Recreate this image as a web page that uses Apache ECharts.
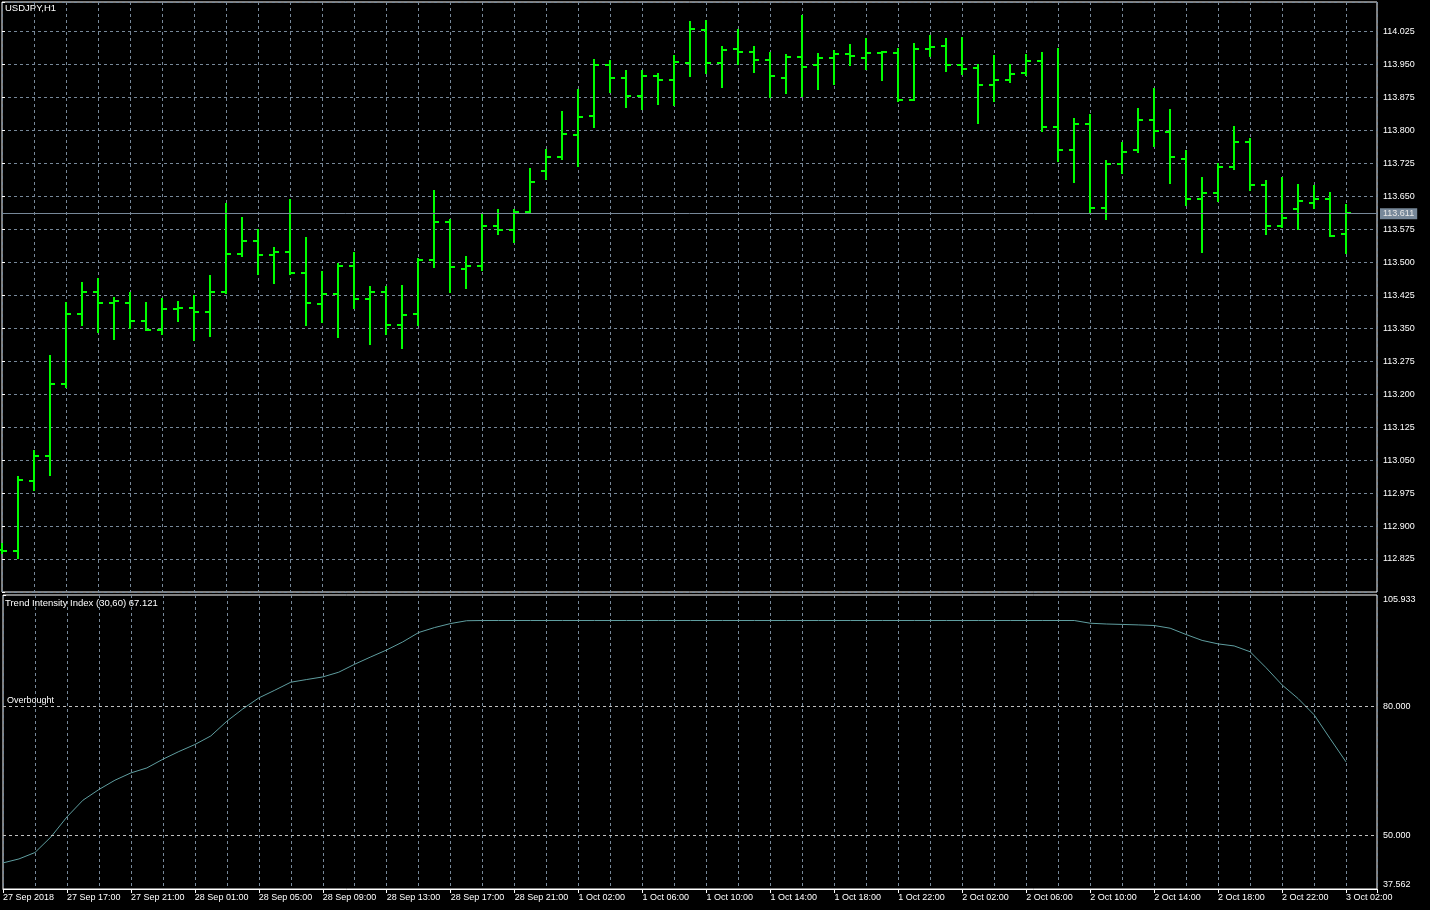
<!DOCTYPE html>
<html>
<head>
<meta charset="utf-8">
<script src="https://cdn.jsdelivr.net/npm/echarts@6/dist/echarts.min.js"></script>
<style>
html,body{margin:0;padding:0;background:#000;}
#c{width:1430px;height:910px;}
</style>
</head>
<body>
<div id="c"></div>
<script>
// ---- data ----
const symbolTitle = 'USDJPY,H1';
const indicatorName = 'Trend Intensity Index (30,60)';

// time labels shown on the axis, one every 4 hourly bars
const tickLabels = ['27 Sep 2018','27 Sep 17:00','27 Sep 21:00','28 Sep 01:00','28 Sep 05:00','28 Sep 09:00',
  '28 Sep 13:00','28 Sep 17:00','28 Sep 21:00','1 Oct 02:00','1 Oct 06:00','1 Oct 10:00','1 Oct 14:00',
  '1 Oct 18:00','1 Oct 22:00','2 Oct 02:00','2 Oct 06:00','2 Oct 10:00','2 Oct 14:00','2 Oct 18:00',
  '2 Oct 22:00','3 Oct 02:00'];

const open = [112.845,112.843,113.002,113.060,113.222,113.381,113.433,113.406,113.408,113.365,
  113.346,113.394,113.396,113.386,113.431,113.519,113.547,113.517,113.522,113.475,
  113.404,113.427,113.490,113.417,113.431,113.358,113.381,113.504,113.592,113.485,
  113.490,113.581,113.572,113.614,113.707,113.739,113.790,113.833,113.949,113.919,
  113.878,113.924,113.913,113.953,114.028,113.953,113.985,113.978,113.960,113.919,
  113.967,113.947,113.963,113.973,113.963,113.976,113.976,113.869,113.985,113.992,
  113.949,113.942,113.903,113.915,113.931,113.958,113.808,113.754,113.815,113.624,
  113.722,113.754,113.824,113.795,113.735,113.643,113.656,113.717,113.772,113.676,
  113.581,113.620,113.635,113.643,113.563];
const high = [112.858,113.012,113.071,113.287,113.408,113.453,113.462,113.418,113.430,113.407,
  113.416,113.409,113.423,113.469,113.632,113.601,113.573,113.532,113.642,113.555,
  113.477,113.495,113.521,113.444,113.444,113.446,113.507,113.662,113.596,113.511,
  113.610,113.619,113.619,113.712,113.755,113.841,113.891,113.960,113.957,113.935,
  113.935,113.928,113.969,114.046,114.049,113.989,114.028,113.989,113.975,113.971,
  114.060,113.973,113.980,113.994,114.007,113.978,113.984,113.995,114.014,114.007,
  114.009,113.949,113.968,113.949,113.970,113.975,113.984,113.825,113.834,113.729,
  113.770,113.848,113.894,113.846,113.753,113.692,113.723,113.807,113.779,113.685,
  113.692,113.676,113.673,113.657,113.630];
const low = [112.838,112.827,112.983,113.017,113.217,113.358,113.342,113.326,113.351,113.346,
  113.336,113.367,113.324,113.333,113.430,113.513,113.473,113.452,113.473,113.358,
  113.363,113.329,113.395,113.313,113.336,113.304,113.358,113.488,113.433,113.442,
  113.483,113.563,113.545,113.613,113.690,113.735,113.719,113.807,113.887,113.853,
  113.848,113.860,113.857,113.923,113.930,113.898,113.950,113.932,113.876,113.885,
  113.878,113.894,113.906,113.949,113.940,113.913,113.866,113.869,113.969,113.935,
  113.928,113.817,113.867,113.910,113.926,113.797,113.729,113.681,113.615,113.597,
  113.703,113.751,113.763,113.679,113.629,113.522,113.640,113.711,113.663,113.563,
  113.580,113.575,113.622,113.560,113.520];
const close = [112.843,113.004,113.060,113.222,113.381,113.433,113.406,113.411,113.365,113.346,
  113.394,113.396,113.386,113.431,113.519,113.547,113.517,113.522,113.475,113.406,
  113.427,113.491,113.417,113.431,113.356,113.379,113.505,113.592,113.488,113.492,
  113.581,113.572,113.614,113.681,113.739,113.792,113.829,113.949,113.919,113.878,
  113.924,113.913,113.956,114.031,113.953,113.983,113.978,113.960,113.922,113.967,
  113.944,113.963,113.973,113.969,113.976,113.978,113.869,113.985,113.990,113.949,
  113.940,113.903,113.915,113.928,113.958,113.808,113.754,113.815,113.624,113.722,
  113.751,113.824,113.797,113.738,113.643,113.656,113.717,113.772,113.676,113.583,
  113.600,113.638,113.644,113.560,113.611];

// Trend Intensity Index values, one per bar
const tii = [43.63,44.56,46.05,49.67,54.33,58.21,60.70,62.86,64.56,65.72,
  67.74,69.53,71.16,73.16,76.58,79.44,82.00,83.79,85.65,86.28,
  86.88,87.98,89.84,91.53,93.16,95.02,97.21,98.37,99.30,99.95,
  100,100,100,100,100,100,100,100,100,100,
  100,100,100,100,100,100,100,100,100,100,
  100,100,100,100,100,100,100,100,100,100,
  100,100,100,100,100,100,100,100,99.37,99.19,
  99.09,98.98,98.84,98.21,96.74,95.37,94.56,94.09,92.74,89.02,
  85.02,81.86,78.09,72.56,67.121];

const levels = [{value: 80, label: 'Overbought'}, {value: 50, label: ''}];
const indicatorAxisLabels = [37.562, 50, 80, 105.933];
const priceRange = [112.75, 114.0913];
const priceStep = 0.075;

// ---- chart ----
const FONT = 'Liberation Sans';
const GRID_COLOR = '#778899';
const DASH = [3, 3];
const X_MAX = 1375 / 16;
const ohlc = open.map((o, i) => [i, o, high[i], low[i], close[i]]);
const tiiData = tii.map((v, i) => [i, v]);
const lastClose = close[close.length - 1];
const lastTii = tii[tii.length - 1];

function gridXAxis(gi) {
  return {
    gridIndex: gi, type: 'value', min: 0, max: X_MAX, interval: 2,
    axisLine: {show: false}, axisTick: {show: false}, axisLabel: {show: false},
    splitLine: {show: true, lineStyle: {color: GRID_COLOR, type: DASH, width: 1}}
  };
}

function renderOHLC(params, api) {
  const x = api.value(0);
  const o = api.coord([x, api.value(1)]);
  const h = api.coord([x, api.value(2)]);
  const l = api.coord([x, api.value(3)]);
  const c = api.coord([x, api.value(4)]);
  const cx = Math.round(o[0]);
  const st = {stroke: '#00ff00', lineWidth: 2};
  return {
    type: 'group',
    children: [
      {type: 'line', shape: {x1: cx, y1: Math.round(h[1]) - 1, x2: cx, y2: Math.round(l[1]) + 1}, style: st},
      {type: 'line', shape: {x1: cx - 5, y1: Math.round(o[1]), x2: cx, y2: Math.round(o[1])}, style: st},
      {type: 'line', shape: {x1: cx, y1: Math.round(c[1]), x2: cx + 5, y2: Math.round(c[1])}, style: st}
    ]
  };
}

const chart = echarts.init(document.getElementById('c'), null, {renderer: 'canvas'});
const txt = {color: '#ffffff', fontFamily: FONT, fontSize: 9};

chart.setOption({
  backgroundColor: '#000000',
  animation: false,
  title: [
    {text: symbolTitle, left: 5, top: 3, padding: 0,
     textStyle: {color: '#fff', fontFamily: FONT, fontSize: 9.5, fontWeight: 'normal'}},
    {text: indicatorName + ' ' + lastTii.toFixed(3), left: 5, top: 598, padding: 0,
     textStyle: {color: '#fff', fontFamily: FONT, fontSize: 9.5, fontWeight: 'normal'}}
  ],
  grid: [
    {left: 2, top: 2, width: 1375, height: 590, show: true, borderColor: '#ffffff', borderWidth: 1, containLabel: false},
    {left: 2, top: 595, width: 1375, height: 294, show: true, borderColor: '#ffffff', borderWidth: 1, containLabel: false}
  ],
  xAxis: [
    gridXAxis(0),
    gridXAxis(1),
    {
      gridIndex: 1, type: 'value', min: 0, max: X_MAX, interval: 4, position: 'bottom',
      axisLine: {show: true, lineStyle: {color: '#ffffff'}},
      axisTick: {show: true, length: 4, lineStyle: {color: '#ffffff'}},
      splitLine: {show: false},
      axisLabel: Object.assign({}, txt, {
        align: 'left', margin: 4,
        formatter: v => (Number.isInteger(v) && v % 4 === 0 && tickLabels[v / 4]) ? tickLabels[v / 4] : ''
      })
    }
  ],
  yAxis: [
    {
      gridIndex: 0, type: 'value', position: 'right', min: priceRange[0], max: priceRange[1], interval: priceStep,
      axisLine: {show: false},
      axisTick: {show: true, length: 3, lineStyle: {color: '#ffffff'}},
      axisLabel: Object.assign({}, txt, {
        margin: 6,
        formatter: v => (v < priceRange[0] + 0.05 || v > priceRange[1] - 0.05) ? '' : v.toFixed(3)
      }),
      splitLine: {show: true, lineStyle: {color: GRID_COLOR, type: DASH, width: 1}}
    },
    {
      gridIndex: 1, type: 'value', position: 'right',
      min: indicatorAxisLabels[0], max: indicatorAxisLabels[indicatorAxisLabels.length - 1],
      axisLine: {show: false},
      splitLine: {show: false},
      axisTick: {show: true, length: 3, customValues: indicatorAxisLabels, lineStyle: {color: '#ffffff'}},
      axisLabel: Object.assign({}, txt, {
        margin: 6, customValues: indicatorAxisLabels,
        formatter: v => {
          const s = v.toFixed(3);
          if (v === indicatorAxisLabels[indicatorAxisLabels.length - 1]) return '\n' + s;
          if (v === indicatorAxisLabels[0]) return s + '\n';
          return s;
        }
      })
    }
  ],
  series: [
    {
      type: 'custom', name: symbolTitle, xAxisIndex: 0, yAxisIndex: 0,
      data: ohlc, dimensions: ['t', 'open', 'high', 'low', 'close'],
      encode: {x: 0, y: [1, 2, 3, 4]},
      renderItem: renderOHLC,
      silent: true,
      markLine: {
        silent: true, symbol: 'none', animation: false,
        lineStyle: {color: '#778899', type: 'solid', width: 1},
        label: {
          show: true, position: 'end', distance: 3,
          formatter: () => lastClose.toFixed(3),
          backgroundColor: '#778899', color: '#e8e8e8', fontFamily: FONT, fontSize: 9,
          padding: [1, 3, 1, 3]
        },
        data: [{yAxis: lastClose}]
      }
    },
    {
      type: 'line', name: indicatorName, xAxisIndex: 2, yAxisIndex: 1,
      data: tiiData, symbol: 'none', silent: true,
      lineStyle: {color: '#5f9ea0', width: 1},
      markLine: {
        silent: true, symbol: 'none', animation: false,
        lineStyle: {color: '#c0c0c0', type: DASH, width: 1},
        data: levels.map(l => ({
          yAxis: l.value,
          label: {show: !!l.label, formatter: l.label, position: 'insideStartTop',
                  color: '#ffffff', fontFamily: FONT, fontSize: 9, distance: [4, 1]}
        }))
      }
    }
  ]
});
</script>
</body>
</html>
